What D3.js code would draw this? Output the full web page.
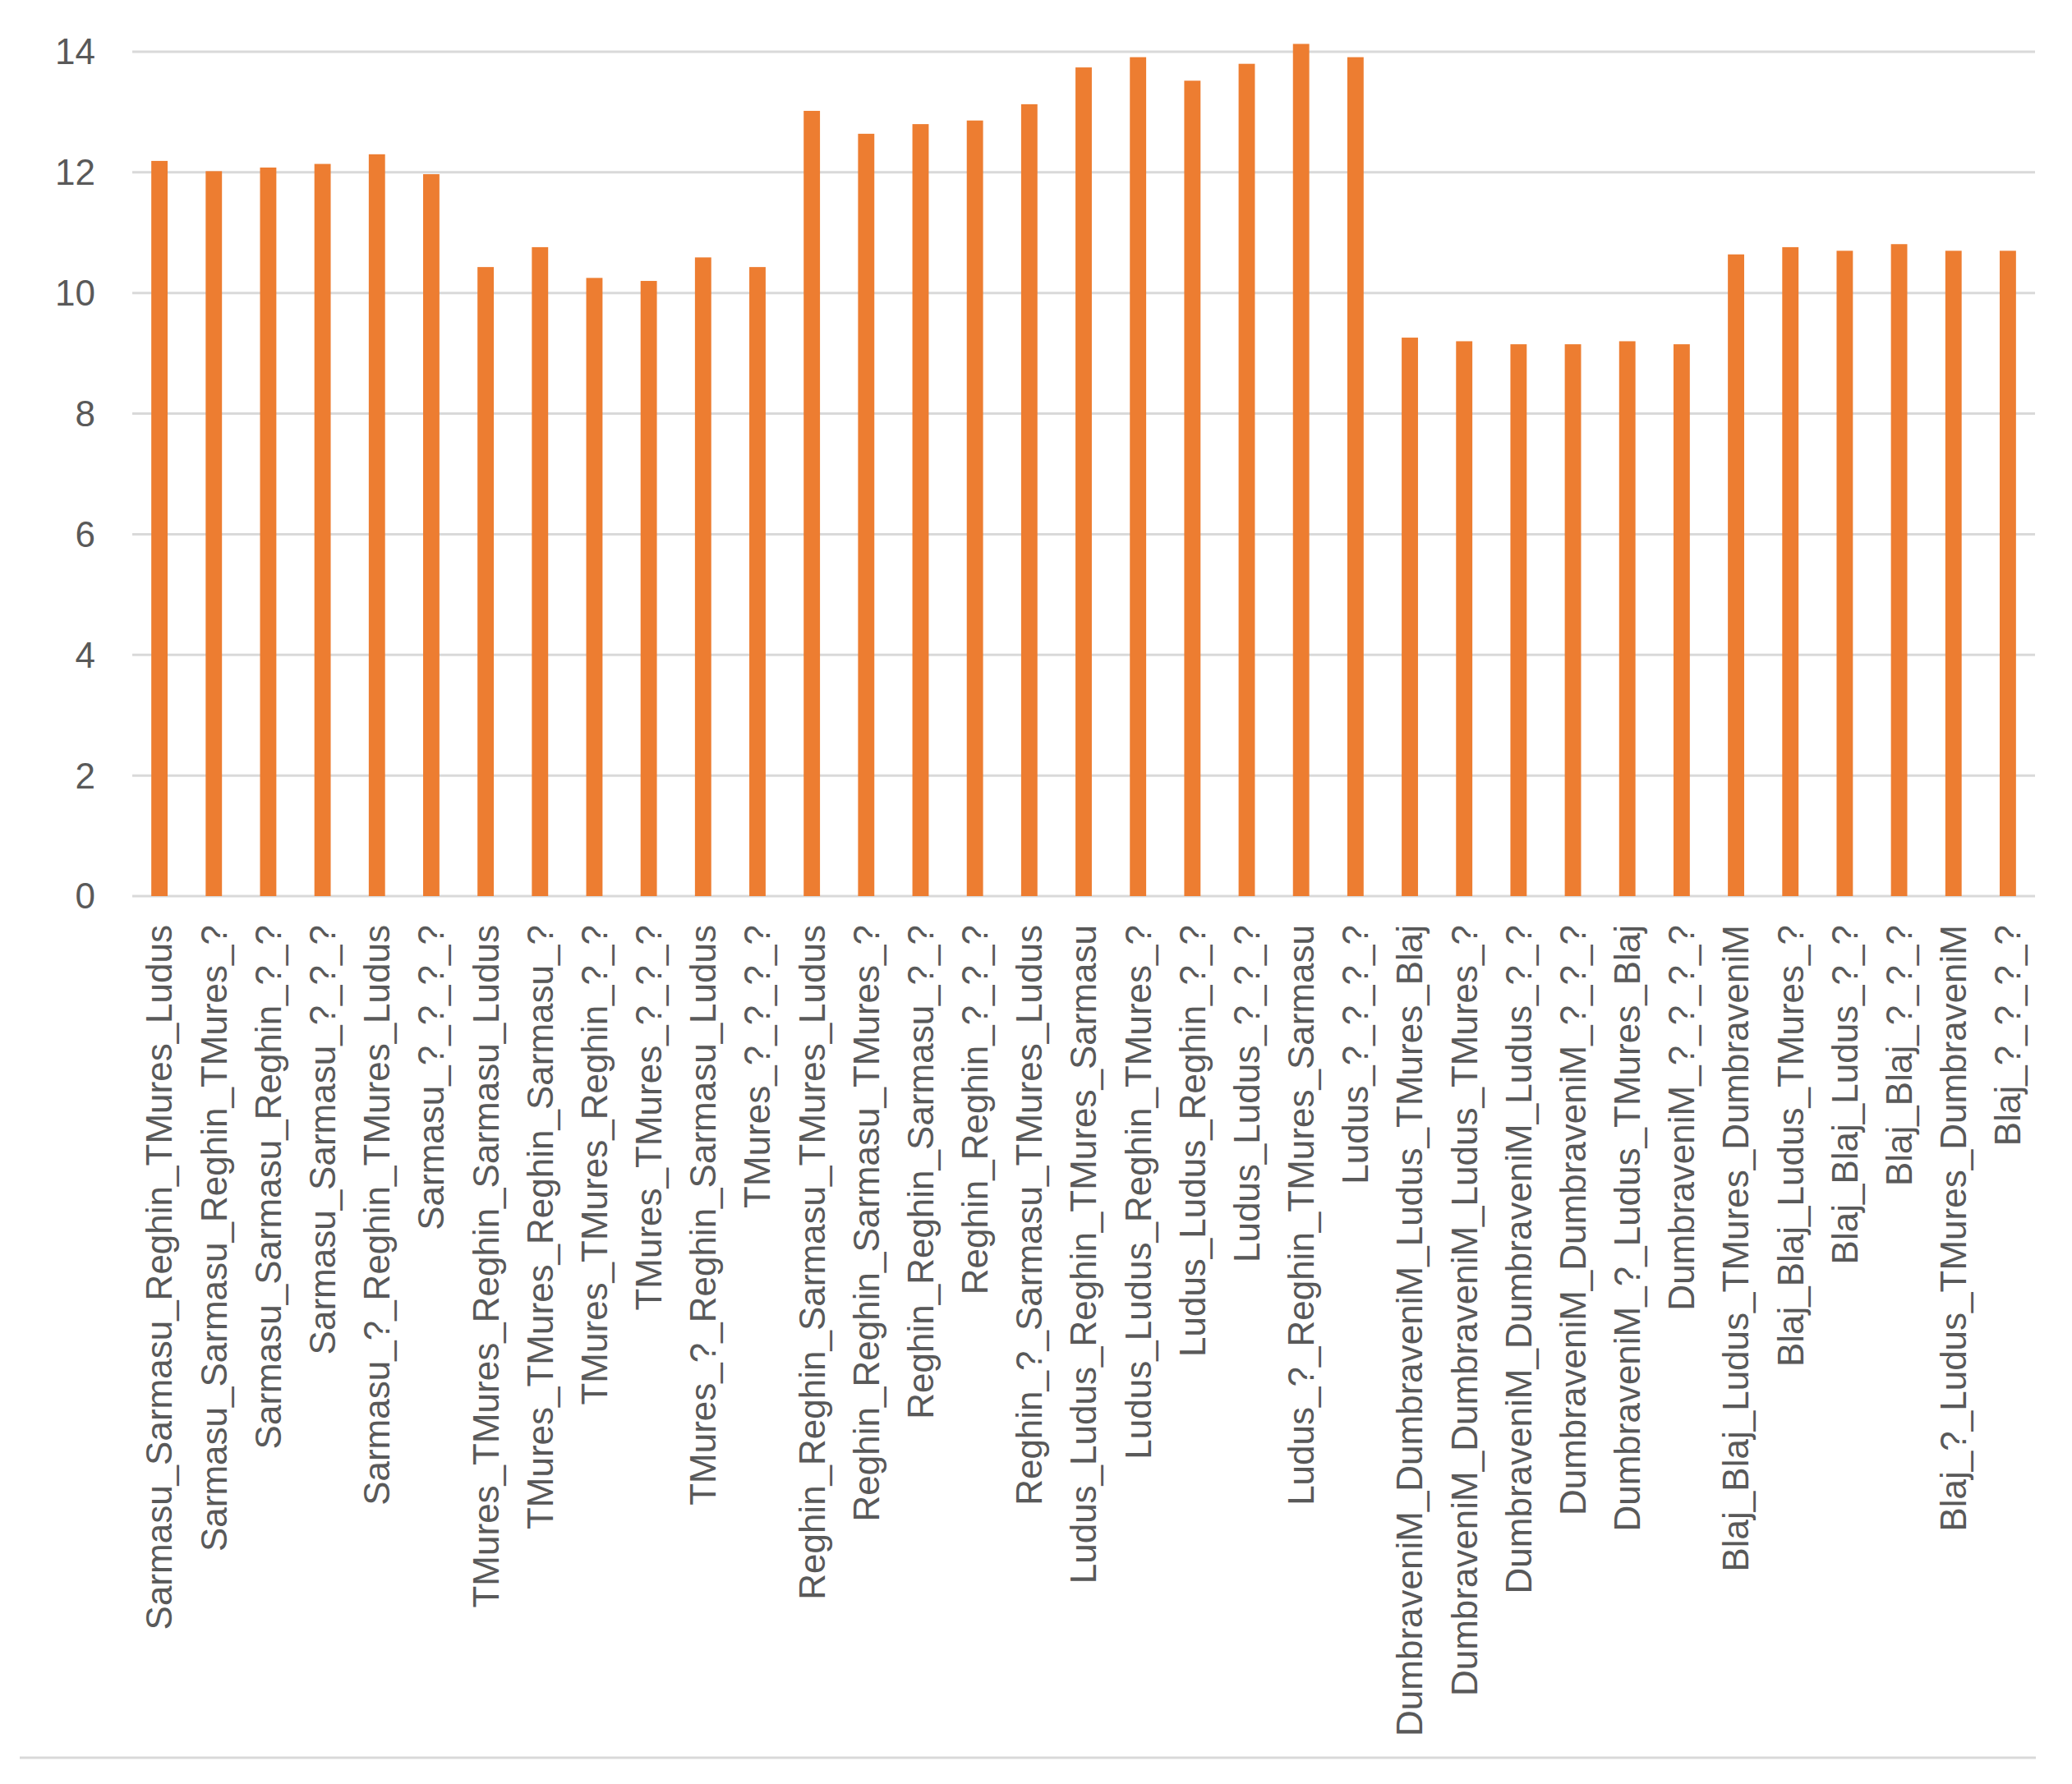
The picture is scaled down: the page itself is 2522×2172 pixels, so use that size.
<!DOCTYPE html>
<html>
<head>
<meta charset="utf-8">
<script src="https://cdn.jsdelivr.net/npm/d3@7"></script>
<style>
  body { margin: 0; background: #fff; }
  text { font-family: "Liberation Sans", Arial, sans-serif; fill: #595959; }
</style>
</head>
<body>
<svg id="chart"></svg>
<script>
// Route labels and values
const categories = [
  "Sarmasu_Sarmasu_Reghin_TMures_Ludus", "Sarmasu_Sarmasu_Reghin_TMures_?", "Sarmasu_Sarmasu_Reghin_?_?",
  "Sarmasu_Sarmasu_?_?_?", "Sarmasu_?_Reghin_TMures_Ludus", "Sarmasu_?_?_?_?",
  "TMures_TMures_Reghin_Sarmasu_Ludus", "TMures_TMures_Reghin_Sarmasu_?", "TMures_TMures_Reghin_?_?",
  "TMures_TMures_?_?_?", "TMures_?_Reghin_Sarmasu_Ludus", "TMures_?_?_?_?",
  "Reghin_Reghin_Sarmasu_TMures_Ludus", "Reghin_Reghin_Sarmasu_TMures_?", "Reghin_Reghin_Sarmasu_?_?",
  "Reghin_Reghin_?_?_?", "Reghin_?_Sarmasu_TMures_Ludus", "Ludus_Ludus_Reghin_TMures_Sarmasu",
  "Ludus_Ludus_Reghin_TMures_?", "Ludus_Ludus_Reghin_?_?", "Ludus_Ludus_?_?_?",
  "Ludus_?_Reghin_TMures_Sarmasu", "Ludus_?_?_?_?", "DumbraveniM_DumbraveniM_Ludus_TMures_Blaj",
  "DumbraveniM_DumbraveniM_Ludus_TMures_?", "DumbraveniM_DumbraveniM_Ludus_?_?", "DumbraveniM_DumbraveniM_?_?_?",
  "DumbraveniM_?_Ludus_TMures_Blaj", "DumbraveniM_?_?_?_?", "Blaj_Blaj_Ludus_TMures_DumbraveniM",
  "Blaj_Blaj_Ludus_TMures_?", "Blaj_Blaj_Ludus_?_?", "Blaj_Blaj_?_?_?",
  "Blaj_?_Ludus_TMures_DumbraveniM", "Blaj_?_?_?_?"
];
const values = [
  12.19, 12.02, 12.08, 12.14, 12.30, 11.97,
  10.43, 10.76, 10.25, 10.20, 10.59, 10.43,
  13.02, 12.64, 12.80, 12.86, 13.13, 13.74,
  13.91, 13.52, 13.80, 14.13, 13.91, 9.26,
  9.20, 9.15, 9.15, 9.20, 9.15, 10.64,
  10.76, 10.70, 10.81, 10.70, 10.70
];
const yTicks = [0, 2, 4, 6, 8, 10, 12, 14];

const W = 2522, H = 2172;
const margin = { top: 63, right: 45, bottom: 1081, left: 161 };
const width = W - margin.left - margin.right;
const height = H - margin.top - margin.bottom;

const svg = d3.select("#chart").attr("width", W).attr("height", H);
const g = svg.append("g").attr("transform", `translate(${margin.left},${margin.top})`);

const x = d3.scaleBand().domain(categories).range([0, width]).paddingInner(0.7).paddingOuter(0.35);
const y = d3.scaleLinear().domain([0, 14]).range([height, 0]);

// gridlines
g.selectAll(".grid")
  .data(yTicks)
  .enter()
  .append("line")
  .attr("x1", 0)
  .attr("x2", width)
  .attr("y1", (d) => y(d))
  .attr("y2", (d) => y(d))
  .attr("stroke", "#d9d9d9")
  .attr("stroke-width", 3);

// y labels
g.selectAll(".ylab")
  .data(yTicks)
  .enter()
  .append("text")
  .attr("x", -45)
  .attr("y", (d) => y(d))
  .attr("dy", "0.35em")
  .attr("text-anchor", "end")
  .style("font-size", "44px")
  .text((d) => d);

// bars
g.selectAll("rect")
  .data(values)
  .enter()
  .append("rect")
  .attr("x", (d, i) => x(categories[i]))
  .attr("y", (d) => y(d))
  .attr("width", x.bandwidth())
  .attr("height", (d) => height - y(d))
  .attr("fill", "#ED7D31");

// x labels
g.selectAll(".xlab")
  .data(categories)
  .enter()
  .append("text")
  .attr("transform", (d) => `translate(${x(d) + x.bandwidth() / 2},${height + 35}) rotate(-90)`)
  .attr("dy", "0.35em")
  .attr("text-anchor", "end")
  .style("font-size", "44px")
  .text((d) => d);

// bottom border
svg.append("line")
  .attr("x1", 24).attr("x2", 2478)
  .attr("y1", 2140).attr("y2", 2140)
  .attr("stroke", "#d9d9d9").attr("stroke-width", 3);
</script>
</body>
</html>
